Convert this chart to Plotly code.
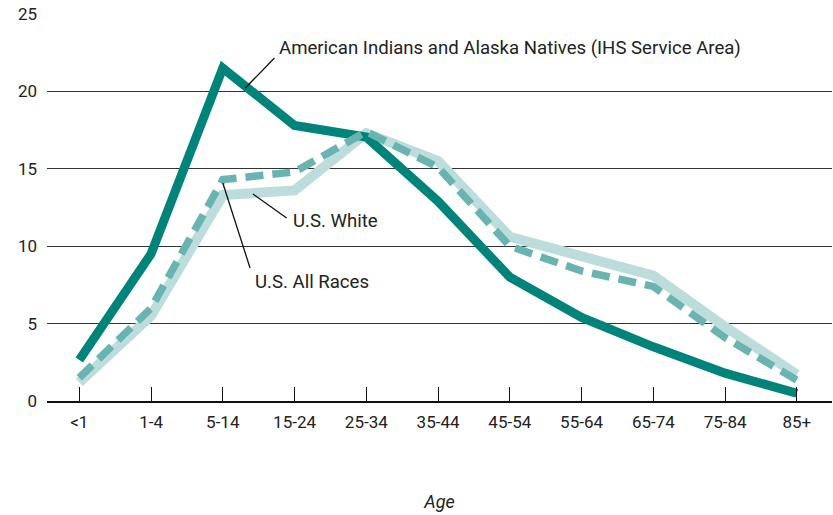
import plotly.graph_objects as go

ages = ["<1", "1-4", "5-14", "15-24", "25-34", "35-44", "45-54", "55-64", "65-74", "75-84", "85+"]
aian = [2.65, 9.5, 21.5, 17.8, 17.05, 12.9, 8.0, 5.4, 3.5, 1.8, 0.5]
us_white = [1.2, 5.5, 13.3, 13.6, 17.3, 15.5, 10.6, 9.3, 8.1, 4.8, 1.7]
us_all = [1.5, 6.0, 14.3, 14.8, 17.4, 15.1, 10.0, 8.4, 7.4, 4.1, 1.35]

FONT = "Roboto, Arial, sans-serif"

fig = go.Figure()

# light solid line first so the dashed one sits on top of it
fig.add_trace(go.Scatter(x=ages, y=us_white, mode="lines", name="U.S. White",
                         line=dict(color="#bcdddb", width=10)))
fig.add_trace(go.Scatter(x=ages, y=aian, mode="lines", name="AI/AN",
                         line=dict(color="#00847a", width=9)))
fig.add_trace(go.Scatter(x=ages, y=us_all, mode="lines", name="U.S. All Races",
                         line=dict(color="#69b4b1", width=7.5, dash="18px,9px")))

# leader lines for the labels
leaders = [
    (2.31, 20.2, 2.72, 22.16),
    (2.42, 13.37, 2.89, 11.82),
    (2.0, 14.08, 2.38, 8.59),
]
for x0, y0, x1, y1 in leaders:
    fig.add_shape(type="line", xref="x", yref="y", x0=x0, y0=y0, x1=x1, y1=y1,
                  line=dict(color="#111111", width=1.3))

labels = [
    (2.75, 22.8, "American Indians and Alaska Natives (IHS Service Area)"),
    (2.95, 11.63, "U.S. White"),
    (2.42, 7.69, "U.S. All Races"),
]
for x, y, txt in labels:
    fig.add_annotation(x=x, y=y, xref="x", yref="y", text=txt, showarrow=False,
                       xanchor="left", yanchor="middle",
                       font=dict(family=FONT, size=18.6, color="#222222"))

fig.update_layout(
    width=833, height=515,
    margin=dict(l=47, r=1, t=14, b=114),
    plot_bgcolor="white", paper_bgcolor="white",
    showlegend=False,
    font=dict(family=FONT, color="#222222"),
    xaxis=dict(
        type="category", range=[-0.45, 10.49], automargin=False,
        showgrid=False, zeroline=False,
        showline=True, linecolor="#111111", linewidth=1.5,
        ticks="inside", ticklen=14, tickcolor="#111111", tickwidth=1.3,
        tickfont=dict(size=17), ticklabelstandoff=5,
        title=dict(text="<i>Age</i>", font=dict(size=18), standoff=64),
    ),
    yaxis=dict(
        range=[0, 25], tickvals=[0, 5, 10, 15, 20, 25], automargin=False,
        showgrid=True, gridcolor="#333333", gridwidth=1.4,
        zeroline=False, showline=False,
        tickfont=dict(size=17), ticklabelstandoff=9,
    ),
)

# drop the browser's default body margin so the figure fills the window
fig.write_html("out.html", config={"displayModeBar": False},
               post_script="document.body.style.margin='0';")
